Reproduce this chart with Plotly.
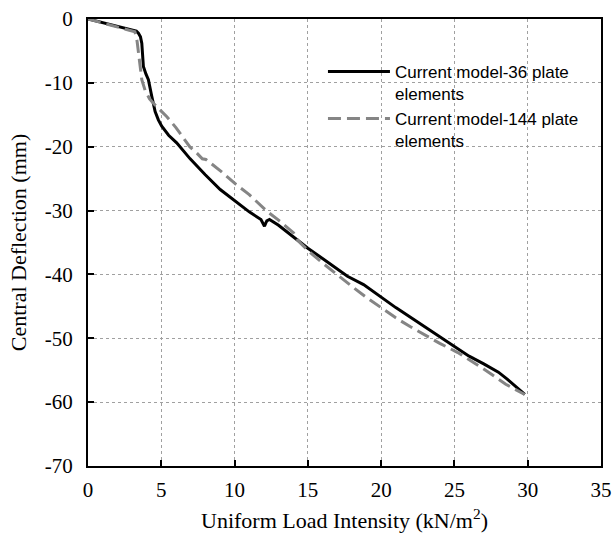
import plotly.graph_objects as go

# Current model - 36 plate elements (solid)
load_36 = [0, 1.0, 2.0, 3.0, 3.3, 3.44, 3.58, 3.67, 3.78, 3.95, 4.12, 4.35, 4.58, 4.8, 5.03, 5.5, 6.05, 6.97,
           8.0, 9.02, 10.0, 11.0, 11.8, 12.04, 12.12, 12.2, 12.38, 13.0, 14.0, 14.49, 15.0, 16.0, 17.0, 17.7,
           18.8, 20.0, 21.0, 22.0, 23.0, 24.0, 25.0, 26.0, 27.0, 27.5, 28.0, 28.6, 29.2, 29.8]
defl_36 = [0, -0.55, -1.1, -1.65, -1.9, -2.23, -2.8, -3.8, -7.45, -8.6, -9.5, -12.1, -14.5, -15.8, -16.8, -18.2, -19.4, -21.9,
           -24.4, -26.7, -28.5, -30.2, -31.4, -32.45, -32.0, -31.6, -31.4, -32.3, -34.1, -35.0, -35.9, -37.5, -39.2, -40.3,
           -41.6, -43.6, -45.2, -46.7, -48.2, -49.7, -51.2, -52.8, -54.0, -54.6, -55.3, -56.4, -57.6, -58.8]

# Current model - 144 plate elements (dashed)
load_144 = [0, 1.0, 2.0, 3.0, 3.2, 3.35, 3.45, 3.55, 3.67, 3.9, 4.2, 4.46, 5.0, 5.38, 6.0, 6.94, 7.43, 7.8, 8.05, 8.25,
            9.1, 10.1, 11.0, 12.2, 13.0, 14.03, 14.26, 14.5, 15.17, 16.0, 17.0, 18.13, 19.0, 20.2, 21.0, 22.0, 23.0,
            24.0, 25.2, 26.0, 27.0, 27.7, 28.5, 29.8]
defl_144 = [0, -0.6, -1.2, -1.8, -2.0, -3.5, -5.4, -7.5, -9.5, -11.2, -12.5, -13.2, -14.5, -15.3, -17.0, -20.0, -21.0, -21.9, -22.0, -22.35,
            -23.9, -25.9, -27.5, -30.1, -31.5, -33.5, -34.5, -35.1, -36.6, -38.2, -40.1, -42.1, -43.6, -45.5, -46.8, -48.2, -49.5,
            -50.8, -52.2, -53.3, -54.8, -55.9, -57.2, -58.8]

x_ticks = [0, 5, 10, 15, 20, 25, 30, 35]
y_ticks = [0, -10, -20, -30, -40, -50, -60, -70]

names = ["Current model-36 plate<br>elements", "Current model-144 plate<br>elements"]

fig = go.Figure()
fig.add_trace(go.Scatter(x=load_36, y=defl_36, mode="lines", name=names[0],
                         line=dict(color="black", width=3)))
fig.add_trace(go.Scatter(x=load_144, y=defl_144, mode="lines", name=names[1],
                         line=dict(color="#858585", width=3, dash="13px,6px")))

serif = "Liberation Serif, Times New Roman, serif"
axis_common = dict(
    showline=True, linecolor="black", linewidth=2, mirror=True,
    showgrid=True, gridcolor="#a0a0a0", gridwidth=1, griddash="dot",
    ticks="inside", ticklen=6, tickwidth=1.5, tickcolor="black",
    zeroline=False, automargin=False,
    tickfont=dict(family=serif, size=21, color="black"),
)

fig.update_xaxes(range=[0, 35], tickvals=x_ticks, ticktext=[str(v) for v in x_ticks],
                 ticklabelstandoff=4,
                 title=dict(text="Uniform Load Intensity (kN/m<sup>2</sup>)",
                            font=dict(family=serif, size=22, color="black"), standoff=14),
                 **axis_common)
fig.update_yaxes(range=[-70, 0], tickvals=y_ticks, ticktext=[str(v) for v in y_ticks],
                 ticklabelstandoff=9,
                 title=dict(text="Central Deflection (mm)",
                            font=dict(family=serif, size=22, color="black"), standoff=12),
                 **axis_common)

fig.update_layout(
    width=615, height=533,
    margin=dict(l=88, r=14, t=19, b=67),
    plot_bgcolor="white", paper_bgcolor="white",
    legend=dict(x=0.458, y=0.922, xanchor="left", yanchor="top",
                font=dict(family="Liberation Sans, Arial, sans-serif", size=17, color="black"),
                bgcolor="rgba(0,0,0,0)", valign="top", itemwidth=62, tracegroupgap=4),
)

fig.write_html("out.html")
